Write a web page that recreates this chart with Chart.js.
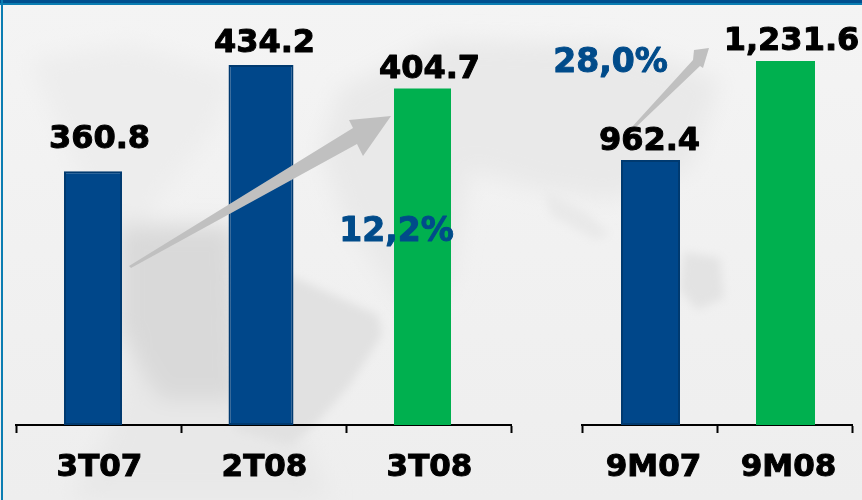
<!DOCTYPE html>
<html>
<head>
<meta charset="utf-8">
<script src="https://cdn.jsdelivr.net/npm/chart.js@4/dist/chart.umd.min.js"></script>
<style>
html,body{margin:0;padding:0;background:#f2f2f2;}
#stage{position:relative;width:862px;height:500px;overflow:hidden;background:#f2f2f2;}
#stage svg,#stage canvas{position:absolute;left:0;top:0;}
#frameTop{position:absolute;left:0;top:0;width:862px;height:3px;background:#00508f;border-bottom:2px solid #0b7db2;}
#frameLeft{position:absolute;left:1px;top:0;width:2px;height:500px;background:#0b7db2;}
</style>
</head>
<body>
<div id="stage">
<svg width="862" height="500" viewBox="0 0 862 500">
  <defs>
    <linearGradient id="g" x1="0" y1="0" x2="0" y2="1">
      <stop offset="0" stop-color="#f4f4f4"/><stop offset="1" stop-color="#eeeeee"/>
    </linearGradient>
    <filter id="b" x="-30%" y="-30%" width="160%" height="160%"><feGaussianBlur stdDeviation="11"/></filter>
    <filter id="c" x="-30%" y="-30%" width="160%" height="160%"><feGaussianBlur stdDeviation="5"/></filter>
  </defs>
  <rect width="862" height="500" fill="url(#g)"/>
  <g filter="url(#b)">
    <polygon fill="#ededed" points="30,60 130,45 235,75 215,130 165,190 135,240 105,230 60,130"/>
    <polygon fill="#e9e9e9" points="340,90 440,40 620,45 720,80 690,170 610,200 540,190 470,170 450,290 405,310 345,220 320,150"/>
    <polygon fill="#e8e8e8" points="70,500 110,430 130,340 300,430 330,500"/>
    <polygon fill="#d9d9d9" points="118,225 235,225 240,400 160,400 118,330"/>
  </g>
  <g filter="url(#c)">
    <polygon fill="#e1e1e1" points="230,250 300,280 378,315 382,335 350,385 315,425 290,445 235,430"/>
    <polygon fill="#e3e3e3" points="684,252 720,258 724,298 697,310 680,290"/>
    <polygon fill="#e9e9e9" points="545,190 590,215 610,235 595,240 550,215"/>
  </g>
</svg>
<div id="frameTop"></div>
<div id="frameLeft"></div>
<canvas id="leftChart" width="862" height="500"></canvas>
<canvas id="rightChart" width="862" height="500"></canvas>
</div>
<script>
// Categories and printed values
const quarterLabels = ['3T07', '2T08', '3T08'];
const quarterPrinted = ['360.8', '434.2', '404.7'];
const periodLabels = ['9M07', '9M08'];
const periodPrinted = ['962.4', '1,231.6'];
// The drawn bar lengths in the reference do not follow the printed numbers exactly:
// these are the bar lengths, in the printed units.
const quarterBarLengths = [306, 434.2, 406];
const periodBarLengths = [897, 1231.6];
const growthQuarter = '12,2%';
const growthPeriod = '28,0%';

const BLUE = '#00478a', BLUE_EDGE = '#003a70', GREEN = '#00b04f', TEXT_BLUE = '#004b8a', ARROW = '#c0c0c0';
const FONT = '"DejaVu Sans"';

function arrow(ctx, pts) {
  ctx.save();
  ctx.fillStyle = ARROW;
  ctx.beginPath();
  pts.forEach((p, i) => i ? ctx.lineTo(p[0], p[1]) : ctx.moveTo(p[0], p[1]));
  ctx.closePath();
  ctx.fill();
  ctx.restore();
}

function heavyText(ctx, text, x, y, color) {
  ctx.fillStyle = color;
  ctx.strokeStyle = color;
  ctx.lineWidth = 1;
  ctx.lineJoin = 'round';
  ctx.strokeText(text, x, y);
  ctx.fillText(text, x, y);
}

function makeChart(id, cfg) {
  const geometry = {
    id: 'geometry',
    afterDatasetsUpdate(chart) {
      const xs = chart.scales.x;
      chart.getDatasetMeta(0).data.forEach((el, i) => {
        el.x = xs.getPixelForValue(i) + cfg.barNudge[i];
        el.width = cfg.barWidth[i];
      });
    }
  };
  const overlay = {
    id: 'overlay',
    afterDatasetsDraw(chart) {
      const ctx = chart.ctx, xs = chart.scales.x, ys = chart.scales.y;
      arrow(ctx, cfg.arrow);
      ctx.save();
      ctx.textAlign = 'center';
      ctx.textBaseline = 'alphabetic';
      ctx.font = 'bold ' + cfg.valueSize + 'px ' + FONT;
      cfg.printed.forEach((t, i) => {
        const top = ys.getPixelForValue(cfg.lengths[i]);
        heavyText(ctx, t, xs.getPixelForValue(i) + cfg.labelNudge[i], top - cfg.labelGap[i], '#000');
      });
      ctx.font = 'bold 33px ' + FONT;
      heavyText(ctx, cfg.growth, cfg.growthAt[0], cfg.growthAt[1], TEXT_BLUE);
      ctx.restore();
    }
  };
  return new Chart(document.getElementById(id), {
    type: 'bar',
    data: {
      labels: cfg.labels,
      datasets: [{
        data: cfg.lengths,
        backgroundColor: cfg.colors,
        borderColor: cfg.edges,
        borderWidth: cfg.edgeWidths,
        borderSkipped: false
      }]
    },
    options: {
      responsive: false,
      animation: false,
      events: [],
      layout: { padding: { left: cfg.left, right: cfg.right, top: 0, bottom: 0 } },
      plugins: { legend: { display: false }, tooltip: { enabled: false } },
      scales: {
        x: {
          type: 'category',
          offset: true,
          afterFit(s) { s.height = 75; },
          border: { display: true, color: '#000', width: 2 },
          grid: { display: true, offset: true, drawOnChartArea: false, drawTicks: true, tickLength: 8, tickWidth: 2, tickColor: '#000', color: '#000' },
          ticks: { color: '#000', textStrokeColor: '#000', textStrokeWidth: 1, font: { family: FONT, weight: 'bold', size: 31 }, padding: 16, maxRotation: 0, autoSkip: false, labelOffset: cfg.tickShift }
        },
        y: { display: false, min: 0, max: cfg.yMax }
      }
    },
    plugins: [geometry, overlay]
  });
}

makeChart('leftChart', {
  labels: quarterLabels, printed: quarterPrinted, lengths: quarterBarLengths,
  colors: [BLUE, BLUE, GREEN], edges: [BLUE_EDGE, BLUE_EDGE, GREEN], edgeWidths: [2, 2, 0],
  left: 16, right: 351, yMax: 512.6, valueSize: 32, tickShift: 1,
  barNudge: [-5.5, -2.5, -6], barWidth: [58, 65, 57],
  labelNudge: [1, 1, 1], labelGap: [23, 13, 10],
  growth: growthQuarter, growthAt: [396.5, 241],
  arrow: [[129, 266], [353, 128], [349, 120], [391, 116], [363, 156], [357, 144], [131, 268]]
});
makeChart('rightChart', {
  labels: periodLabels, printed: periodPrinted, lengths: periodBarLengths,
  colors: [BLUE, GREEN], edges: [BLUE_EDGE, GREEN], edgeWidths: [2, 0],
  left: 582, right: 10, yMax: 1438, valueSize: 32, tickShift: 4,
  barNudge: [1, 1], barWidth: [59, 59],
  labelNudge: [0, 7], labelGap: [10, 11],
  growth: growthPeriod, growthAt: [610.5, 72],
  arrow: [[631, 128], [693, 60], [694, 50], [709, 48], [703, 68], [700, 66], [634, 129]]
});
</script>
</body>
</html>
